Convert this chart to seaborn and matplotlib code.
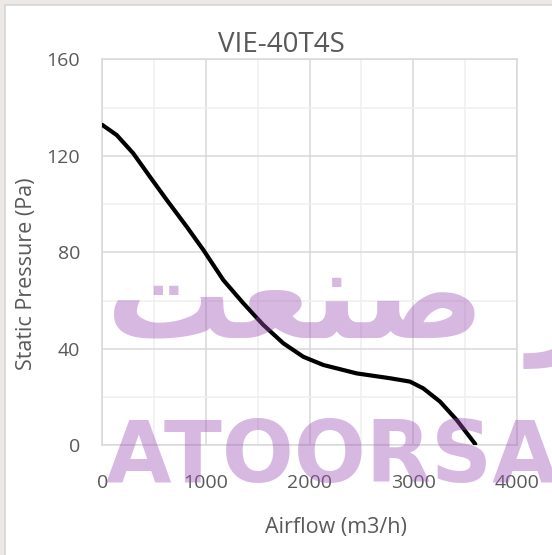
import matplotlib
matplotlib.use("Agg")
import matplotlib.pyplot as plt
import seaborn as sns
import pandas as pd
from matplotlib.patches import Rectangle
from matplotlib.ticker import MultipleLocator

# ---- data ----
airflow = [0, 139, 299, 460, 622, 815, 975, 1168, 1361, 1554, 1747, 1940,
           2133, 2456, 2777, 2970, 3098, 3260, 3421, 3600]
pressure = [132.8, 128.6, 121.0, 111.3, 101.7, 90.6, 81.0, 68.5, 58.9, 49.9,
            42.3, 36.7, 33.3, 29.8, 27.8, 26.4, 23.6, 18.1, 10.5, 0.5]
x_ticks = [0, 1000, 2000, 3000, 4000]
y_ticks = [0, 40, 80, 120, 160]
title = "VIE-40T4S"
x_label = "Airflow (m3/h)"
y_label = "Static Pressure (Pa)"
wm_latin = "ATOORSAN"
wm_persian = "\uFE96\uFECC\uFEE8\uFEBB \uFEAD"

sns.set_style("whitegrid")
plt.rcParams['font.family'] = ['Open Sans', 'DejaVu Sans']

W, H = 552, 555
fig = plt.figure(figsize=(W / 100, H / 100), dpi=100)
fig.patch.set_facecolor("white")

ax = fig.add_axes([102.3 / W, 1 - 445.3 / H, (516.7 - 102.3) / W, (445.3 - 59.3) / H])
df = pd.DataFrame({"airflow": airflow, "pressure": pressure})
sns.lineplot(data=df, x="airflow", y="pressure", color="black", linewidth=3.0,
             ax=ax, zorder=5)

ax.set_xlim(0, 4000)
ax.set_ylim(0, 160)
ax.set_xticks(x_ticks)
ax.set_yticks(y_ticks)
ax.xaxis.set_minor_locator(MultipleLocator(500))
ax.yaxis.set_minor_locator(MultipleLocator(20))
ax.grid(which="major", color="#d9d9d9", linewidth=1.1)
ax.grid(which="minor", color="#efefef", linewidth=1.1)
for s in ax.spines.values():
    s.set_visible(True)
    s.set_color("#d9d9d9")
    s.set_linewidth(1.1)
ax.set_facecolor("white")
ax.tick_params(which="both", length=0)
ax.tick_params(axis="y", pad=16, labelsize=14, labelcolor="#595959")
ax.tick_params(axis="x", pad=21, labelsize=14, labelcolor="#595959")
ax.set_xlabel("")
ax.set_ylabel("")

fig.text(281 / W, 1 - 45 / H, title, ha="center", va="center", fontsize=20, color="#595959")
fig.text(336 / W, 1 - 527 / H, x_label, ha="center", va="center", fontsize=15.5, color="#595959")
fig.text(27 / W, 1 - 274 / H, y_label, ha="center", va="center", rotation=90,
         fontsize=15.5, color="#595959")

# outer frame strips
fig.patches.append(Rectangle((0, 1 - 4.5 / H), 1, 4.5 / H, transform=fig.transFigure,
                             facecolor="#ece9e6", edgecolor="none", zorder=0))
fig.patches.append(Rectangle((0, 0), 4.5 / W, 1, transform=fig.transFigure,
                             facecolor="#ece9e6", edgecolor="none", zorder=0))
fig.add_artist(plt.Line2D([5 / W, 5 / W], [0, 1 - 5 / H], transform=fig.transFigure,
                          color="#d6d6d6", linewidth=1.2))
fig.add_artist(plt.Line2D([5 / W, 1], [1 - 5 / H, 1 - 5 / H], transform=fig.transFigure,
                          color="#d6d6d6", linewidth=1.2))

# watermark
wm_color = "#9b4fb5"
fig.text(106 / W, 1 - 482 / H, wm_latin, ha="left", va="baseline", fontsize=61,
         fontweight="bold", family="DejaVu Sans", color=wm_color, alpha=0.4, zorder=10)
fig.text(106 / W, 1 - 338 / H, wm_persian, ha="left", va="baseline", fontsize=91,
         fontweight="bold", family="DejaVu Sans", color=wm_color, alpha=0.4, zorder=10)

fig.savefig("out.png", dpi=100)
